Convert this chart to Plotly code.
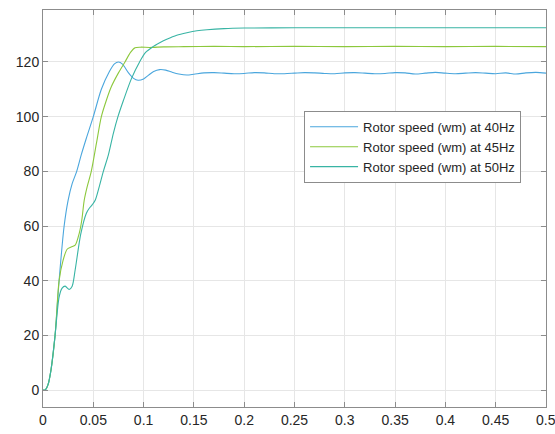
import plotly.graph_objects as go

# Rotor speed (wm) responses at three supply frequencies
t_40 = [0, 0.002, 0.005, 0.008, 0.012, 0.016, 0.021, 0.025, 0.029, 0.0335, 0.038, 0.043,
        0.050, 0.058, 0.066, 0.071, 0.075, 0.079, 0.085, 0.090, 0.0945, 0.100, 0.105,
        0.110, 0.116, 0.122, 0.128, 0.135, 0.143, 0.150, 0.160, 0.170, 0.180, 0.190,
        0.200, 0.210, 0.220, 0.230, 0.240, 0.250, 0.260, 0.270, 0.280, 0.290, 0.300,
        0.310, 0.320, 0.330, 0.340, 0.350, 0.360, 0.370, 0.380, 0.390, 0.400, 0.410,
        0.420, 0.430, 0.440, 0.450, 0.460, 0.470, 0.480, 0.490, 0.500]
w_40 = [0, 0, 2, 7.5, 20, 40, 60, 69.5, 75.5, 80, 86, 92,
        100, 110, 116.5, 119.3, 120, 119.2, 116, 114, 113.3, 113.8, 115.2,
        116.5, 117.2, 117, 116.3, 115.6, 115.2, 115.5, 116.0, 116.1, 115.9, 115.7,
        115.8, 116.1, 116.0, 115.7, 115.7, 115.9, 116.1, 116.0, 115.8, 115.7, 116.0,
        116.1, 115.9, 115.7, 115.8, 116.1, 116.0, 115.6, 115.9, 116.2, 115.9, 115.7,
        115.9, 116.1, 115.9, 115.7, 116.0, 115.6, 116.0, 116.2, 115.9]

t_45 = [0, 0.002, 0.005, 0.008, 0.012, 0.016, 0.020, 0.024, 0.028, 0.032, 0.036, 0.0385,
        0.041, 0.044, 0.048, 0.053, 0.058, 0.063, 0.068, 0.075, 0.0815, 0.087, 0.0915,
        0.097, 0.106, 0.120, 0.140, 0.170, 0.200, 0.250, 0.300, 0.350, 0.400, 0.450, 0.500]
w_45 = [0, 0, 2, 7.5, 20, 40, 47.5, 51.5, 52.3, 53, 57.3, 62,
        69.5, 74.5, 80, 90, 100, 106, 111, 116, 120, 123.5, 125.2,
        125.4, 125.3, 125.5, 125.6, 125.7, 125.6, 125.7, 125.6, 125.7, 125.6, 125.7, 125.6]

t_50 = [0, 0.002, 0.005, 0.008, 0.012, 0.016, 0.019, 0.022, 0.026, 0.029, 0.032, 0.0375,
        0.043, 0.046, 0.049, 0.052, 0.056, 0.060, 0.065, 0.070, 0.0745, 0.080, 0.088,
        0.096, 0.102, 0.109, 0.116, 0.123, 0.133, 0.143, 0.153, 0.163, 0.180, 0.200,
        0.250, 0.300, 0.400, 0.500]
w_50 = [0, 0, 2, 7.5, 20, 34, 37.3, 38, 36.8, 38, 44, 57,
        64.6, 66.5, 67.8, 69.5, 74.5, 80, 86, 94, 100, 106, 114,
        120, 123.5, 125.5, 127, 128.3, 129.8, 130.7, 131.4, 131.8, 132.2, 132.4,
        132.5, 132.5, 132.5, 132.5]

names = ["Rotor speed (wm) at 40Hz", "Rotor speed (wm) at 45Hz", "Rotor speed (wm) at 50Hz"]
colors = ["#4aa6dd", "#8cc83c", "#38b4a4"]

x_ticks = [0, 0.05, 0.1, 0.15, 0.2, 0.25, 0.3, 0.35, 0.4, 0.45, 0.5]
x_labels = ["0", "0.05", "0.1", "0.15", "0.2", "0.25", "0.3", "0.35", "0.4", "0.45", "0.5"]
y_ticks = [0, 20, 40, 60, 80, 100, 120]

tick_font = dict(family="Liberation Sans, Arial, sans-serif", size=14, color="#262626")

fig = go.Figure()
for t, w, n, c in zip([t_40, t_45, t_50], [w_40, w_45, w_50], names, colors):
    fig.add_trace(go.Scatter(x=t, y=w, mode="lines", name=n,
                             line=dict(color=c, width=1.1, shape="spline", smoothing=0.8)))

axis_common = dict(
    showline=True, linecolor="#8c8c8c", linewidth=1, mirror="ticks",
    ticks="inside", ticklen=5, tickcolor="#8c8c8c", tickwidth=1,
    showgrid=True, gridcolor="#e6e6e6", gridwidth=1, zeroline=False,
    automargin=False, tickfont=tick_font,
)

fig.update_xaxes(range=[0, 0.5], tickvals=x_ticks, ticktext=x_labels, **axis_common)
fig.update_yaxes(range=[-6.2, 139], tickvals=y_ticks, **axis_common)

# the last x tick label runs past the page edge, so it is placed as an annotation
fig.add_annotation(x=x_ticks[-1], y=0, xref="x", yref="paper", text=x_labels[-1],
                   showarrow=False, xanchor="center", yanchor="top", yshift=-3,
                   font=tick_font)

fig.update_layout(
    width=555, height=434,
    margin=dict(l=43, r=9, t=10, b=27),
    paper_bgcolor="white", plot_bgcolor="white",
    showlegend=True,
    legend=dict(x=0.519, y=0.746, xanchor="left", yanchor="top",
                bgcolor="white", bordercolor="#8c8c8c", borderwidth=1,
                font=dict(family="Liberation Sans, Arial, sans-serif", size=13, color="#262626"),
                tracegroupgap=0, itemwidth=48),
)

fig.write_html("out.html")
